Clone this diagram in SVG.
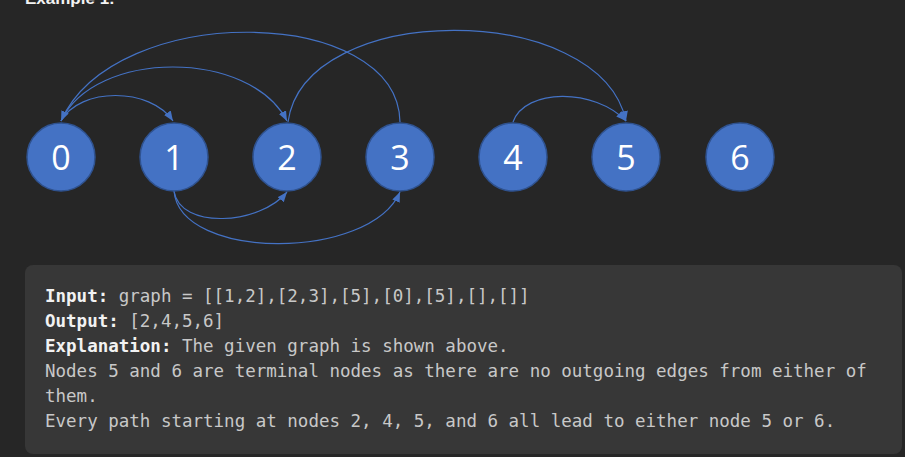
<svg xmlns="http://www.w3.org/2000/svg" width="905" height="457" viewBox="0 0 905 457">
<style>
.node circle{fill:#4472C4;stroke:#2F528F;stroke-width:1.5}
.node text{fill:#fff;font-family:"Open Sans","Noto Sans",sans-serif;font-size:34px;text-anchor:middle}
.edge{fill:none;stroke:#4472C4;stroke-width:1.2;marker-end:url(#arr)}
.mono{font-family:"DejaVu Sans Mono","Liberation Mono",monospace;font-size:17.5px;fill:#c8c8c8}
.b{font-weight:bold;fill:#f2f2f2}
</style>
<defs>
<marker id="arr" markerUnits="userSpaceOnUse" markerWidth="12" markerHeight="10" refX="10" refY="4" orient="auto">
<path d="M0,0 L10,4 L0,8 Z" fill="#4472C4"/>
</marker>
</defs>
<rect width="905" height="457" fill="#262626"/>
<text x="25" y="4" font-family="Liberation Sans,Arial,sans-serif" font-weight="bold" font-size="17" fill="#f2f2f2">Example 1:</text>
<g id="connectors">
<path class="edge" d="M61,121 C 80,87 150,87 173,121"/>
<path class="edge" d="M61,121 C 95,49 250,49 287,121"/>
<path class="edge" d="M400,122 C 398,5 115,0 61,121"/>
<path class="edge" d="M288,122 C 305,0 600,0 626,121"/>
<path class="edge" d="M513,122 C 525,88 595,88 626,121"/>
<path class="edge" d="M174,191 C 180,230 260,225 287,192"/>
<path class="edge" d="M174,191 C 180,261 370,261 400,192"/>
</g>
<g id="node0" class="node"><circle cx="61" cy="157" r="34"/><text x="61" y="170">0</text></g>
<g id="node1" class="node"><circle cx="174" cy="157" r="34"/><text x="174" y="170">1</text></g>
<g id="node2" class="node"><circle cx="287" cy="157" r="34"/><text x="287" y="170">2</text></g>
<g id="node3" class="node"><circle cx="400" cy="157" r="34"/><text x="400" y="170">3</text></g>
<g id="node4" class="node"><circle cx="513" cy="157" r="34"/><text x="513" y="170">4</text></g>
<g id="node5" class="node"><circle cx="626" cy="157" r="34"/><text x="626" y="170">5</text></g>
<g id="node6" class="node"><circle cx="740" cy="157" r="34"/><text x="740" y="170">6</text></g>
<g id="textbox">
<rect x="25" y="265" width="877" height="189" rx="8" fill="#373737"/>
<text class="mono" x="45" y="302"><tspan class="b">Input:</tspan> graph = [[1,2],[2,3],[5],[0],[5],[],[]]</text>
<text class="mono" x="45" y="327"><tspan class="b">Output:</tspan> [2,4,5,6]</text>
<text class="mono" x="45" y="352"><tspan class="b">Explanation:</tspan> The given graph is shown above.</text>
<text class="mono" x="45" y="377">Nodes 5 and 6 are terminal nodes as there are no outgoing edges from either of</text>
<text class="mono" x="45" y="402">them.</text>
<text class="mono" x="45" y="427">Every path starting at nodes 2, 4, 5, and 6 all lead to either node 5 or 6.</text>
</g>
</svg>
